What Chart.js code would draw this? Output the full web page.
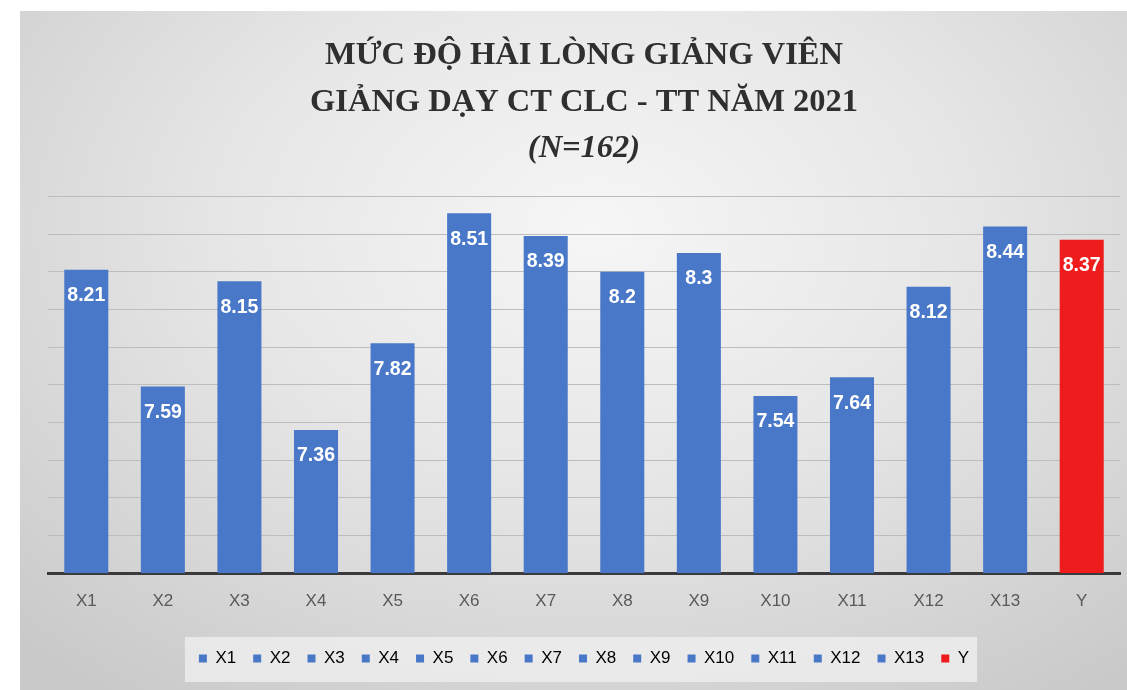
<!DOCTYPE html>
<html>
<head>
<meta charset="utf-8">
<script src="https://cdn.jsdelivr.net/npm/chart.js@4"></script>
<style>
  html, body { margin: 0; padding: 0; background: #fff; overflow: hidden; }
  #box {
    position: absolute; left: 20px; top: 11px; width: 1107px; height: 679px;
    background: radial-gradient(ellipse 75% 85% at 52% 32%, #f6f6f6 0%, #e6e6e6 45%, #c9c9c9 100%);
  }
</style>
</head>
<body>
<div id="box"><canvas id="chart" width="1107" height="679"></canvas></div>
<script>
  // data
  const labels = ['X1', 'X2', 'X3', 'X4', 'X5', 'X6', 'X7', 'X8', 'X9', 'X10', 'X11', 'X12', 'X13', 'Y'];
  const scores = [8.21, 7.59, 8.15, 7.36, 7.82, 8.51, 8.39, 8.2, 8.3, 7.54, 7.64, 8.12, 8.44, 8.37];
  const barColors = ['#4A78C8', '#4A78C8', '#4A78C8', '#4A78C8', '#4A78C8', '#4A78C8', '#4A78C8',
                     '#4A78C8', '#4A78C8', '#4A78C8', '#4A78C8', '#4A78C8', '#4A78C8', '#EE1C1C'];
  const titleLines = ['MỨC ĐỘ HÀI LÒNG GIẢNG VIÊN', 'GIẢNG DẠY CT CLC - TT NĂM 2021'];
  const subtitleText = '(N=162)';

  const tickFont = "'Liberation Sans', Arial, sans-serif";
  const titleFont = "'Liberation Serif', 'Times New Roman', serif";

  // white value labels inside the top of each bar
  const valueLabels = {
    id: 'valueLabels',
    afterDatasetsDraw(chart) {
      const { ctx } = chart;
      const meta = chart.getDatasetMeta(0);
      ctx.save();
      ctx.fillStyle = '#ffffff';
      ctx.font = "bold 19.5px " + tickFont;
      ctx.textAlign = 'center';
      ctx.textBaseline = 'middle';
      meta.data.forEach((bar, i) => {
        ctx.fillText(String(scores[i]), bar.x, bar.y + 26);
      });
      ctx.restore();
    }
  };

  // lighter box behind the legend
  const legendBox = {
    id: 'legendBox',
    beforeDraw(chart) {
      const boxes = chart.legend && chart.legend.legendHitBoxes;
      if (!boxes || !boxes.length) return;
      const left = Math.min(...boxes.map(b => b.left)) - 14;
      const right = Math.max(...boxes.map(b => b.left + b.width)) + 8;
      const top = boxes[0].top - 13;
      const ctx = chart.ctx;
      ctx.save();
      ctx.fillStyle = 'rgba(240,240,240,0.75)';
      ctx.fillRect(left, top, right - left, 45);
      ctx.restore();
    }
  };

  new Chart(document.getElementById('chart'), {
    type: 'bar',
    data: {
      labels: labels,
      datasets: [{
        data: scores,
        backgroundColor: barColors,
        barPercentage: 0.575,
        categoryPercentage: 1.0
      }]
    },
    options: {
      responsive: false,
      animation: false,
      layout: { padding: { left: 28, right: 7, top: 0, bottom: 13 } },
      scales: {
        y: {
          min: 6.6,
          max: 8.6,
          ticks: { display: false, stepSize: 0.2 },
          grid: { color: '#bdbdbd', lineWidth: 1, drawTicks: false },
          border: { display: false }
        },
        x: {
          ticks: { color: '#595959', font: { family: tickFont, size: 17 }, padding: 18 },
          grid: { display: false, drawTicks: false },
          border: { display: true, color: '#3a3a3a', width: 3 },
          afterFit(scale) { scale.height = 60; }
        }
      },
      plugins: {
        title: {
          display: true,
          text: titleLines,
          color: '#2f2f2f',
          font: { family: titleFont, size: 32.5, weight: 'bold', lineHeight: 1.44 },
          padding: { top: 21, bottom: 0 }
        },
        subtitle: {
          display: true,
          text: subtitleText,
          color: '#2f2f2f',
          font: { family: titleFont, size: 32.5, weight: 'bold', style: 'italic', lineHeight: 1.44 },
          padding: { top: 0, bottom: 24 }
        },
        legend: {
          position: 'bottom',
          labels: {
            color: '#595959',
            font: { family: tickFont, size: 17 },
            usePointStyle: true,
            pointStyle: 'rect',
            boxWidth: 8,
            boxHeight: 8,
            padding: 17,
            generateLabels: (chart) => labels.map((name, i) => ({
              text: name,
              fillStyle: barColors[i],
              strokeStyle: barColors[i],
              lineWidth: 0,
              pointStyle: 'rect',
              hidden: false,
              index: i
            }))
          }
        },
        tooltip: { enabled: false }
      }
    },
    plugins: [legendBox, valueLabels]
  });
</script>
</body>
</html>
